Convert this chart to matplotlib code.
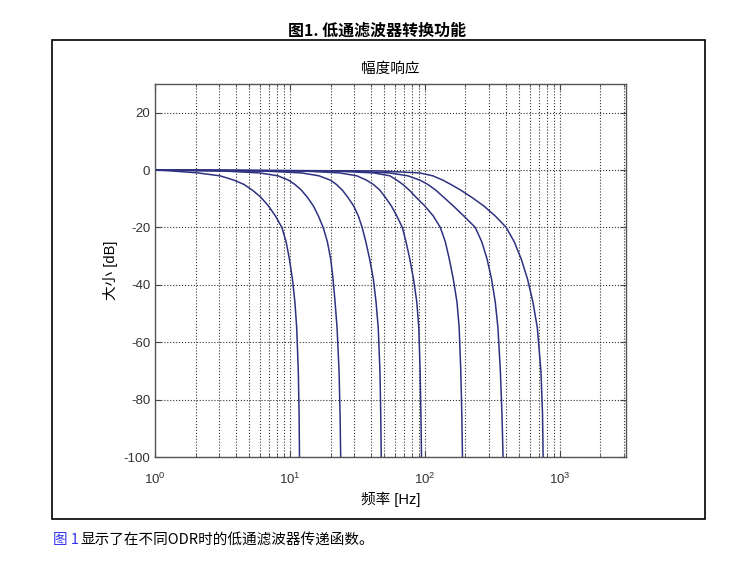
import numpy as np
import matplotlib
matplotlib.use("Agg")
import matplotlib.pyplot as plt
from matplotlib.patches import Rectangle
from matplotlib.ticker import LogLocator, FixedLocator

plt.rcParams['font.family'] = ['Liberation Sans', 'Noto Sans CJK SC', 'DejaVu Sans']
plt.rcParams['mathtext.default'] = 'regular'
plt.rcParams['axes.unicode_minus'] = False

# magnitude response for each ODR
# every curve is sampled at the same gain levels [dB]
gain_db = [0, -0.3, -1, -2, -3.5, -5, -7, -9.5, -12.5, -16, -20,
           -25, -31, -38, -46, -55, -70, -85, -100]

# frequency [Hz] where each curve reaches those levels
f1 = [1.0, 1.336, 2.082, 3.030, 3.848, 4.564, 5.275, 6.098, 6.930, 7.809, 8.724,
      9.372, 9.915, 10.44, 10.89, 11.23, 11.54, 11.70, 11.78]
f2 = [1.0, 3.135, 5.995, 8.149, 9.748, 10.89, 12.17, 13.48, 14.93, 16.26, 17.65,
      18.96, 20.06, 20.89, 21.62, 22.37, 23.14, 23.54, 23.79]
f3 = [1.0, 6.203, 12.27, 16.40, 19.95, 22.10, 24.48, 26.89, 29.69, 32.17, 34.32,
      36.56, 39.00, 41.55, 43.50, 45.17, 46.50, 47.13, 47.54]
f4 = [1.0, 12.27, 23.46, 31.35, 36.87, 41.55, 46.42, 50.98, 56.47, 62.03, 68.13,
      72.57, 77.43, 82.47, 87.24, 90.27, 92.30, 93.56, 94.53]
f5 = [1.0, 20.47, 41.90, 55.05, 62.03, 68.71, 76.77, 86.21, 100.0, 115.6, 130.3,
      141.9, 151.9, 162.6, 173.2, 179.8, 184.8, 188.0, 190.2]
f6 = [1.0, 27.83, 55.05, 74.83, 91.82, 105.3, 120.6, 138.3, 162.6, 194.5, 236.6,
      264.4, 289.4, 312.5, 332.8, 348.5, 363.1, 373.1, 380.2]
f7 = [1.0, 46.42, 91.82, 114.6, 135.9, 155.8, 184.8, 222.9, 273.6, 332.8, 401.5,
      460.2, 518.6, 577.4, 633.1, 682.5, 725.7, 745.8, 753.4]

curves = [f1, f2, f3, f4, f5, f6, f7]
yticks = [-100, -80, -60, -40, -20, 0, 20]

fig = plt.figure(figsize=(7.38, 5.73), dpi=100)

# outer frame round the figure
fig.patches.append(Rectangle((52 / 738, 1 - 519 / 573), (705 - 52) / 738, (519 - 40) / 573,
                             transform=fig.transFigure, fill=False, edgecolor='black', linewidth=1.2))

fig.text(377 / 738, 1 - 31 / 573, '图1. 低通滤波器转换功能', ha='center', va='center',
         fontsize=11.5, fontweight='bold', family=['Noto Sans CJK SC', 'DejaVu Sans'])

ax = fig.add_axes([155 / 738, 1 - 457 / 573, (626 - 155) / 738, (457 - 84) / 573])

for f in curves:
    ax.plot(f, gain_db, color='#2e3280', linewidth=1.1)

ax.set_xscale('log')
ax.set_xlim(1, 3100)
ax.set_ylim(-100, 30)
ax.yaxis.set_major_locator(FixedLocator(yticks))
ax.xaxis.set_major_locator(LogLocator(base=10, numticks=10))
ax.xaxis.set_minor_locator(LogLocator(base=10, subs=np.arange(2, 10), numticks=20))

ax.grid(True, which='major', linestyle=':', color='#333333', linewidth=0.8)
ax.grid(True, which='minor', axis='x', linestyle=':', color='#333333', linewidth=0.8)

ax.tick_params(which='both', direction='in', top=True, right=True, colors='#444444',
               labelcolor='#333333', labelsize=9.5)
ax.tick_params(which='major', length=4)
ax.tick_params(which='minor', length=2)
ax.tick_params(axis='x', which='major', pad=11)
for s in ax.spines.values():
    s.set_color('#555555')
    s.set_linewidth(1.0)

ax.set_title('幅度响应', fontsize=10.5, pad=8)
ax.set_xlabel('频率 [Hz]', fontsize=10.5, labelpad=3)
ax.set_ylabel('大小 [dB]', fontsize=10.5, labelpad=4)

# caption under the frame
fig.text(53 / 738, 1 - 540 / 573, '图 1', color='#3535ee', style='italic', fontsize=10.5,
         ha='left', va='center', family=['Noto Sans CJK SC', 'DejaVu Sans'])
fig.text(80 / 738, 1 - 540 / 573, '显示了在不同ODR时的低通滤波器传递函数。', color='black', fontsize=10.5,
         ha='left', va='center', family=['Noto Sans CJK SC', 'DejaVu Sans'])

fig.savefig('out.png', dpi=100)
